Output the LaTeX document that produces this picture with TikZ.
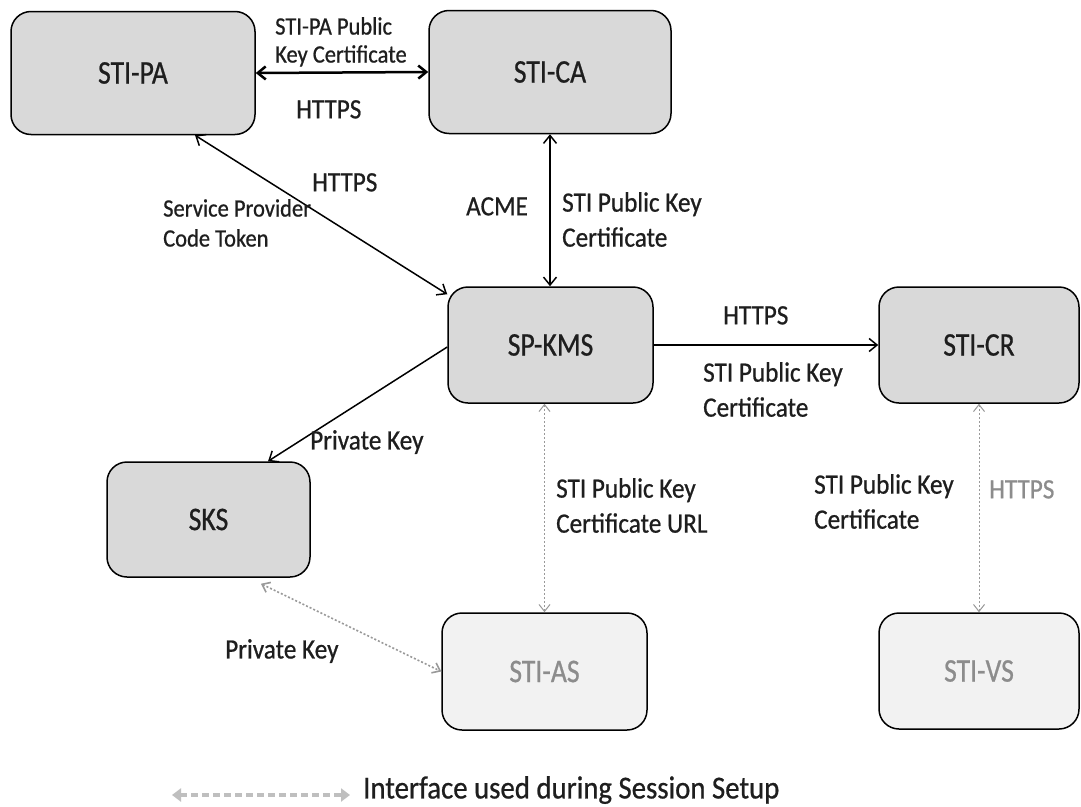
\documentclass[tikz,border=0pt]{standalone}
\usepackage{fontspec}
\setmainfont{Carlito}[FakeStretch=0.9,FakeBold=0.7]
\newfontfamily\boxfont{Carlito}[FakeStretch=0.84,FakeBold=0.7]
\usetikzlibrary{arrows.meta}
\definecolor{boxgray}{HTML}{D9D9D9}
\definecolor{boxlight}{HTML}{F2F2F2}
\definecolor{txtgray}{HTML}{8C8C8C}
\definecolor{lnkgray}{HTML}{999999}
\definecolor{leggray}{HTML}{BFBFBF}
\definecolor{ink}{HTML}{1E1E1E}
\begin{document}
\begin{tikzpicture}[x=1pt,y=-1pt,
 box/.style={draw=black, line width=1.5pt, rounded corners=20pt, fill=boxgray, inner sep=0pt, text=ink, font=\boxfont\fontsize{33}{39}\selectfont},
 ltbox/.style={box, fill=boxlight, text=txtgray},
 lbl/.style={anchor=north west, inner sep=0pt, align=left, text=ink, font=\fontsize{28}{35}\selectfont},
 slbl/.style={lbl, font=\fontsize{25}{28}\selectfont},
 mlbl/.style={lbl, font=\fontsize{25}{30}\selectfont},
 glbl/.style={lbl, text=txtgray},
 biarrow/.style={line width=1.5pt, {Straight Barb[length=8pt,width=13pt]}-{Straight Barb[length=8pt,width=13pt]}},
 onearrow/.style={line width=1.5pt, -{Straight Barb[length=8pt,width=13pt]}},
 session/.style={draw=lnkgray, line width=1pt, dash pattern=on 2pt off 2pt, {Straight Barb[length=7pt,width=11pt]}-{Straight Barb[length=7pt,width=11pt]}},
 legendarrow/.style={draw=leggray, line width=4pt, dash pattern=on 7pt off 4pt, {Triangle[length=9pt,width=13pt]}-{Triangle[length=9pt,width=13pt]}}
]
\useasboundingbox[fill=white] (0,0) rectangle (1081,806);

% boxes
\node[box, minimum width=244pt, minimum height=123pt] (pa) at (133,73) {STI-PA};
\node[box, minimum width=242pt, minimum height=123pt] (ca) at (550,72) {STI-CA};
\node[box, minimum width=205pt, minimum height=116pt] (kms) at (550.5,345) {SP-KMS};
\node[box, minimum width=200pt, minimum height=116pt] (cr) at (979,345) {STI-CR};
\node[box, minimum width=203pt, minimum height=115pt] (sks) at (208.5,519.5) {SKS};
\node[ltbox, minimum width=205pt, minimum height=117pt] (as) at (544.5,671.5) {STI-AS};
\node[ltbox, minimum width=200pt, minimum height=116pt] (vs) at (979,671) {STI-VS};

% connectors
\draw[biarrow, line width=2.5pt] (pa.east) -- (ca.west);
\draw[biarrow] ([xshift=62pt]pa.south) -- ([yshift=-8pt]kms.north west);
\draw[biarrow] (ca.south) -- (ca.south |- kms.north);
\draw[onearrow] (kms.east) -- (cr.west);
\draw[onearrow] ([yshift=-2pt]kms.west) -- ([xshift=59.5pt]sks.north);
\draw[session] (kms.south -| as.north) -- (as.north);
\draw[session] (cr.south) -- (vs.north);
\draw[session, line width=1.6pt] ([xshift=52.5pt,yshift=-6pt]sks.south) -- (as.west);

% labels
\node[slbl] (l1) at (275,17) {STI-PA Public\\Key Certificate};
\node[lbl] (l2) at (296,100) {HTTPS};
\node[lbl] (l3) at (312,173) {HTTPS};
\node[mlbl] (l4) at (163,199) {Service Provider\\Code Token};
\node[lbl] (l5) at (466,197) {ACME};
\node[lbl] (l6) at (562,192) {STI Public Key\\Certificate};
\node[lbl] (l7) at (723,306) {HTTPS};
\node[lbl] (l8) at (703,362) {STI Public Key\\Certificate};
\node[lbl] (l9) at (310,430) {Private Key};
\node[lbl] (l10) at (556,478) {STI Public Key\\Certificate URL};
\node[lbl] (l11) at (814,474) {STI Public Key\\Certificate};
\node[glbl] (l12) at (989,480) {HTTPS};
\node[lbl] (l13) at (225,639) {Private Key};

% legend
\coordinate (legA) at (172,795);
\coordinate (legB) at (350,795);
\draw[legendarrow] (legA) -- (legB);
\node[lbl, font=\fontsize{32}{38}\selectfont] (leg) at (363,776) {Interface used during Session Setup};
\end{tikzpicture}
\end{document}
